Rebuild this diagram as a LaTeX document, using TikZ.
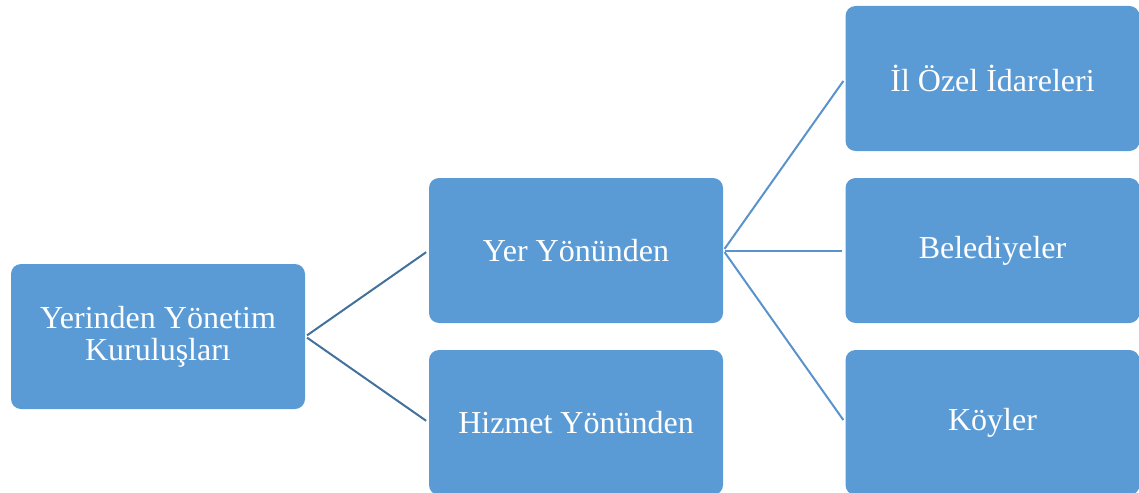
\documentclass[tikz,border=0pt]{standalone}
\usepackage{fontspec}
\setmainfont{Liberation Serif}
\definecolor{boxblue}{HTML}{5B9BD5}
\definecolor{linkdark}{HTML}{41719C}
\definecolor{linklight}{HTML}{5A93CC}
\begin{document}
\begin{tikzpicture}[x=0.5pt,y=-0.5pt,
  card/.style={fill=boxblue, draw=none, rounded corners=5pt,
    minimum width=147pt, minimum height=72.5pt, inner sep=0pt,
    text=white, align=center,
    font=\fontsize{16pt}{16pt}\selectfont},
  link/.style={line width=1pt, shorten >=1.5pt, shorten <=1pt}]
\useasboundingbox (0,0) rectangle (1139,492);
% root
\node[card] (root) at (158,336.5) {Yerinden Yönetim\\Kuruluşları};
% second level
\node[card] (yer) at (576,250.5) {Yer Yönünden};
\node[card] (hizmet) at (576,422.5) {Hizmet Yönünden};
% third level
\node[card] (il) at (992.5,78.5) {İl Özel İdareleri};
\node[card] (bel) at (992.5,250.5) {Belediyeler};
\node[card] (koy) at (992.5,422.5) {Köyler};
% connectors
\draw[link, linkdark] (root.east) -- (yer.west);
\draw[link, linkdark] (root.east) -- (hizmet.west);
\draw[link, linklight] (yer.east) -- (il.west);
\draw[link, linklight] (yer.east) -- (bel.west);
\draw[link, linklight] (yer.east) -- (koy.west);
\end{tikzpicture}
\end{document}
